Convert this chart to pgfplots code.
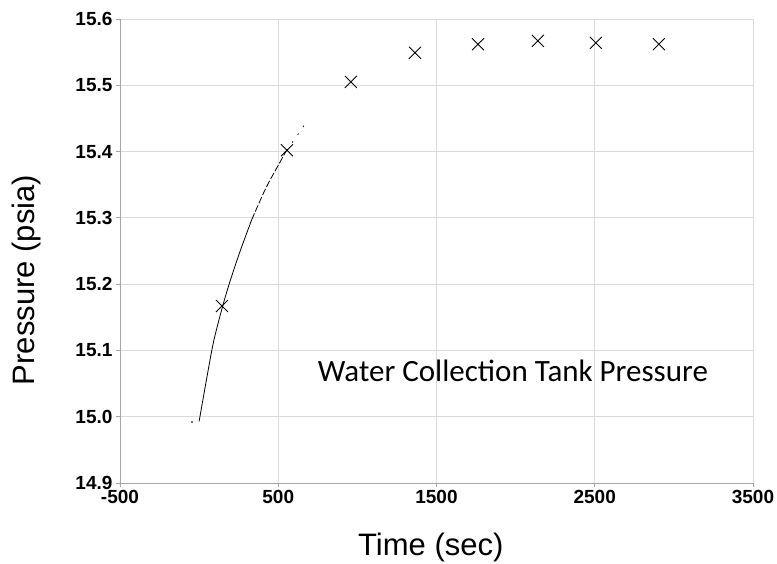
\documentclass[border=0pt]{standalone}
\usepackage{fontspec}
\setmainfont{Liberation Sans}
\newfontfamily\carlito{Carlito}
\usepackage{pgfplots}
\pgfplotsset{compat=1.18}
\begin{document}
\begin{tikzpicture}[x=1pt,y=1pt]
\path[use as bounding box] (0,0) rectangle (777,563);
\begin{axis}[
  scale only axis,
  width=633pt, height=464pt,
  at={(120pt,80pt)}, anchor=south west,
  xmin=-500, xmax=3500, ymin=14.9, ymax=15.6,
  xtick={-500,500,1500,2500,3500},
  ytick={14.9,15.0,15.1,15.2,15.3,15.4,15.5,15.6},
  axis lines=left,
  axis line style={-, draw=black!35, line width=0.8pt},
  grid=major,
  major grid style={draw=black!14, line width=0.8pt},
  tick align=outside,
  major tick length=4pt,
  tick style={draw=black!35, line width=0.8pt},
  /pgf/number format/assume math mode=true,
  ticklabel style={font=\bfseries\fontsize{19}{19}\selectfont},
  xticklabel style={/pgf/number format/1000 sep={}},
  yticklabel style={/pgf/number format/.cd, fixed, fixed zerofill, precision=1},
  xlabel={Time (sec)},
  ylabel={Pressure (psia)},
  label style={font=\fontsize{31}{31}\selectfont},
  xlabel style={at={(axis description cs:0.491,-0.139)}, anchor=center},
  ylabel style={at={(axis description cs:-0.147,0.4375)}, anchor=center, rotate=0},
  clip=false,
]
% model curve (solid part)
\addplot[black, line width=0.8pt, no marks, smooth] coordinates {
  (0,14.993) (48,15.058) (92,15.114) (149,15.167) (195,15.204) (258,15.249) (332,15.297)
};
% model curve (broken part)
\addplot[black, line width=0.8pt, no marks, smooth, dash pattern=on 7pt off 2pt] coordinates {
  (332,15.297) (422,15.345) (511,15.384) (553,15.402)
};
\addplot[black, line width=0.8pt, no marks, dash pattern=on 1.5pt off 8pt] coordinates {
  (553,15.402) (610,15.421) (662,15.439)
};
\addplot[black, only marks, mark=*, mark size=0.5pt] coordinates {(-45,14.992)};
% measured points
\addplot[black, only marks, mark=x, mark size=8.5pt, line width=0.9pt] coordinates {
  (144,15.167) (555,15.402) (959,15.505) (1364,15.549) (1762,15.562) (2141,15.567) (2507,15.564) (2905,15.562)
};
\node[anchor=base, font=\carlito\fontsize{31}{31}\selectfont, inner sep=0pt] at (axis cs:1983,15.0525) {Water Collection Tank Pressure};
\end{axis}
\end{tikzpicture}
\end{document}
